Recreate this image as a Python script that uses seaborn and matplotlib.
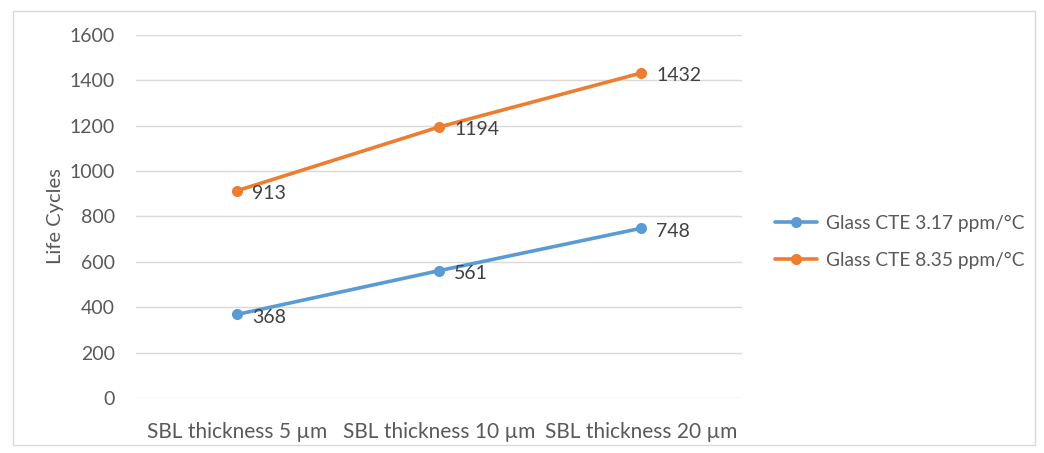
import pandas as pd
import matplotlib.pyplot as plt
import seaborn as sns
from matplotlib.patches import Rectangle

categories = ['SBL thickness 5 µm', 'SBL thickness 10 µm', 'SBL thickness 20 µm']
series_names = ['Glass CTE 3.17 ppm/°C', 'Glass CTE 8.35 ppm/°C']
cte_317 = [368, 561, 748]
cte_835 = [913, 1194, 1432]
colors = ['#5B9BD5', '#ED7D31']

df = pd.DataFrame({
    'cat': categories * 2,
    'pos': list(range(len(categories))) * 2,
    'cycles': cte_317 + cte_835,
    'series': [series_names[0]] * 3 + [series_names[1]] * 3,
})

sns.set_style('white')
plt.rcParams['font.family'] = ['Lato', 'DejaVu Sans']
txt = '#595959'

fig = plt.figure(figsize=(10.44, 4.53), dpi=100)
ax = fig.add_axes([0.130, 0.1214, 0.581, 0.8016])

sns.lineplot(data=df, x='pos', y='cycles', hue='series', palette=colors,
             marker='o', markersize=8, markeredgewidth=0, linewidth=2.6,
             ax=ax, legend=True)

for s, vals in zip(series_names, [cte_317, cte_835]):
    for i, v in enumerate(vals):
        ax.annotate(str(v), (i, v), xytext=(11, -2), textcoords='offset points',
                    ha='left', va='center', fontsize=14, color='#404040')

ax.set_xlim(-0.5, 2.5)
ax.set_ylim(0, 1600)
ax.set_yticks(range(0, 1601, 200))
ax.set_xticks(range(len(categories)))
ax.set_xticklabels(categories, fontsize=15)
ax.tick_params(axis='both', length=0, colors=txt)
ax.tick_params(axis='y', labelsize=14, pad=15)
ax.tick_params(axis='x', pad=17)
ax.grid(axis='y', color='#D9D9D9', linewidth=1)
ax.set_axisbelow(True)
for sp in ax.spines.values():
    sp.set_visible(False)
ax.set_xlabel('')
ax.set_ylabel('Life Cycles', fontsize=14.5, color=txt, labelpad=4)

handles, labels = ax.get_legend_handles_labels()
ax.legend(handles, labels, loc='center left', bbox_to_anchor=(1.026, 0.43),
          frameon=False, fontsize=13.75, labelcolor=txt, handlelength=2.2,
          handletextpad=0.45, labelspacing=1.05)

fig.patches.append(Rectangle((13 / 1044, 8 / 453), 1022 / 1044, 434 / 453,
                             transform=fig.transFigure, fill=False,
                             edgecolor='#D9D9D9', linewidth=1))

fig.savefig('out.png', dpi=100)
